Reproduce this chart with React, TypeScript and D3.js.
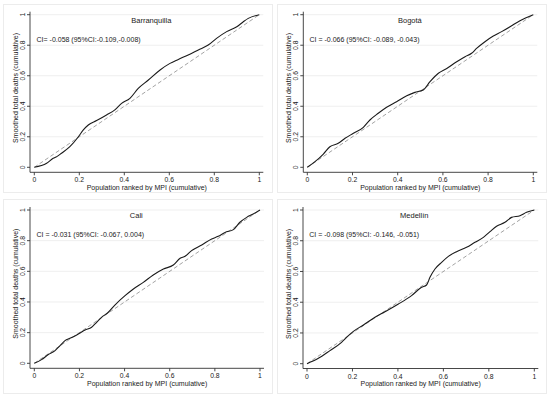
import React, { useEffect, useRef } from 'react';
import * as d3 from 'd3';

// Axis ticks (shared by all four panels)
const tickValues = [0, 0.2, 0.4, 0.6, 0.8, 1];
const tickLabels = ['0', '0.2', '0.4', '0.6', '0.8', '1'];

// Concentration curves
const barranquillaPop = [0, 0.055, 0.084, 0.1, 0.121, 0.158, 0.196, 0.218, 0.24, 0.277, 0.321, 0.358, 0.388, 0.425, 0.462, 0.507, 0.559, 0.603, 0.64, 0.684, 0.729, 0.773, 0.81, 0.855, 0.9, 0.929, 0.951, 1];
const barranquillaDeaths = [0, 0.026, 0.059, 0.07, 0.092, 0.135, 0.2, 0.245, 0.277, 0.306, 0.343, 0.376, 0.419, 0.452, 0.517, 0.572, 0.638, 0.681, 0.707, 0.736, 0.769, 0.801, 0.845, 0.889, 0.921, 0.954, 0.976, 1];

const bogotaPop = [0, 0.034, 0.071, 0.1, 0.137, 0.167, 0.204, 0.248, 0.277, 0.314, 0.351, 0.395, 0.44, 0.476, 0.513, 0.543, 0.58, 0.617, 0.661, 0.698, 0.727, 0.749, 0.786, 0.823, 0.86, 0.897, 0.941, 1];
const bogotaDeaths = [0, 0.037, 0.087, 0.135, 0.157, 0.19, 0.223, 0.262, 0.31, 0.354, 0.393, 0.43, 0.469, 0.491, 0.507, 0.561, 0.616, 0.648, 0.692, 0.725, 0.747, 0.779, 0.823, 0.86, 0.889, 0.921, 0.961, 1];

const caliPop = [0, 0.032, 0.062, 0.092, 0.114, 0.136, 0.158, 0.188, 0.225, 0.254, 0.276, 0.298, 0.328, 0.357, 0.402, 0.439, 0.483, 0.527, 0.572, 0.616, 0.646, 0.668, 0.697, 0.742, 0.786, 0.815, 0.845, 0.882, 0.911, 0.941, 0.97, 1];
const caliDeaths = [0, 0.024, 0.057, 0.083, 0.115, 0.148, 0.163, 0.185, 0.217, 0.235, 0.267, 0.3, 0.333, 0.38, 0.441, 0.485, 0.528, 0.576, 0.615, 0.641, 0.685, 0.698, 0.735, 0.772, 0.811, 0.828, 0.854, 0.872, 0.92, 0.952, 0.974, 1];

const medellinPop = [0, 0.05, 0.101, 0.152, 0.174, 0.204, 0.248, 0.299, 0.343, 0.402, 0.46, 0.504, 0.526, 0.541, 0.563, 0.592, 0.622, 0.658, 0.702, 0.739, 0.776, 0.805, 0.834, 0.871, 0.9, 0.937, 0.966, 1];
const medellinDeaths = [0, 0.035, 0.085, 0.139, 0.171, 0.21, 0.252, 0.302, 0.338, 0.388, 0.443, 0.497, 0.512, 0.562, 0.616, 0.659, 0.698, 0.729, 0.757, 0.79, 0.822, 0.859, 0.894, 0.92, 0.952, 0.963, 0.985, 1];

const cityNames = ['Barranquilla', 'Bogotá', 'Cali', 'Medellín'];
const ciLabels = [
  'CI= -0.058 (95%CI:-0.109,-0.008)',
  'CI = -0.066 (95%CI: -0.089, -0.043)',
  'CI = -0.031 (95%CI: -0.067, 0.004)',
  'CI = -0.098 (95%CI: -0.146, -0.051)',
];

interface Panel {
  name: string;
  ci: string;
  pop: number[];
  deaths: number[];
  frame: [number, number, number, number];
  xr: [number, number];
  yr: [number, number];
  axisX: number;
  axisY: number;
  titleX: number;
}

const panels: Panel[] = [
  { name: cityNames[0], ci: ciLabels[0], pop: barranquillaPop, deaths: barranquillaDeaths,
    frame: [3, 4, 272, 192], xr: [34.3, 259.3], yr: [167.3, 14.7], axisX: 30, axisY: 172.3, titleX: 0.52 },
  { name: cityNames[1], ci: ciLabels[1], pop: bogotaPop, deaths: bogotaDeaths,
    frame: [277, 4, 546, 192], xr: [307.3, 533.3], yr: [167.3, 14.7], axisX: 303.3, axisY: 172.3, titleX: 0.454 },
  { name: cityNames[2], ci: ciLabels[2], pop: caliPop, deaths: caliDeaths,
    frame: [3, 199, 272, 393], xr: [34.3, 260], yr: [363.3, 210], axisX: 30, axisY: 368.3, titleX: 0.452 },
  { name: cityNames[3], ci: ciLabels[3], pop: medellinPop, deaths: medellinDeaths,
    frame: [277, 199, 546, 393], xr: [307, 534.3], yr: [363.7, 210], axisX: 303, axisY: 368.5, titleX: 0.472 },
];

const FONT = '"Liberation Sans", Arial, Helvetica, sans-serif';
const TEXT = '#1a1a1a';

const App: React.FC = () => {
  const svgRef = useRef<SVGSVGElement>(null);

  useEffect(() => {
    if (!svgRef.current) return;
    const svg = d3.select(svgRef.current);
    svg.selectAll('*').remove();

    svg.append('rect').attr('width', 550).attr('height', 399).attr('fill', '#ffffff');

    panels.forEach(p => {
      const g = svg.append('g');
      const x = d3.scaleLinear().domain([0, 1]).range(p.xr);
      const y = d3.scaleLinear().domain([0, 1]).range(p.yr);
      const [fx0, fy0, fx1, fy1] = p.frame;

      // Panel frame
      g.append('rect')
        .attr('x', fx0 + 0.5)
        .attr('y', fy0 + 0.5)
        .attr('width', fx1 - fx0)
        .attr('height', fy1 - fy0)
        .attr('fill', 'none')
        .attr('stroke', '#ececec')
        .attr('stroke-width', 1);

      const plotRight = x(1) + 4;
      const plotTop = y(1) - 3;

      // Grid lines
      g.selectAll('.grid')
        .data(tickValues.slice(1))
        .join('line')
        .attr('x1', p.axisX)
        .attr('x2', plotRight)
        .attr('y1', d => y(d))
        .attr('y2', d => y(d))
        .attr('stroke', '#efefef')
        .attr('stroke-width', 1);

      // Axes lines
      g.append('line')
        .attr('x1', p.axisX).attr('x2', p.axisX)
        .attr('y1', plotTop).attr('y2', p.axisY)
        .attr('stroke', '#333').attr('stroke-width', 0.9);
      g.append('line')
        .attr('x1', p.axisX).attr('x2', plotRight)
        .attr('y1', p.axisY).attr('y2', p.axisY)
        .attr('stroke', '#333').attr('stroke-width', 0.9);

      // Y ticks + labels
      tickValues.forEach((v, i) => {
        g.append('line')
          .attr('x1', p.axisX - 3).attr('x2', p.axisX)
          .attr('y1', y(v)).attr('y2', y(v))
          .attr('stroke', '#333').attr('stroke-width', 0.9);
        g.append('text')
          .attr('transform', `translate(${p.axisX - 5},${y(v)}) rotate(-90)`)
          .attr('text-anchor', 'middle')
          .style('font-family', FONT)
          .style('font-size', '6.8px')
          .style('fill', TEXT)
          .text(tickLabels[i]);
      });

      // X ticks + labels
      tickValues.forEach((v, i) => {
        g.append('line')
          .attr('x1', x(v)).attr('x2', x(v))
          .attr('y1', p.axisY).attr('y2', p.axisY + 3)
          .attr('stroke', '#333').attr('stroke-width', 0.9);
        g.append('text')
          .attr('x', x(v))
          .attr('y', p.axisY + 10)
          .attr('text-anchor', 'middle')
          .style('font-family', FONT)
          .style('font-size', '6.8px')
          .style('fill', TEXT)
          .text(tickLabels[i]);
      });

      // Axis titles
      g.append('text')
        .attr('x', (p.xr[0] + p.xr[1]) / 2)
        .attr('y', p.axisY + 17.5)
        .attr('text-anchor', 'middle')
        .style('font-family', FONT)
        .style('font-size', '7px')
        .style('fill', TEXT)
        .text('Population ranked by MPI (cumulative)');
      g.append('text')
        .attr('transform', `translate(${p.axisX - 12.5},${(p.yr[0] + p.yr[1]) / 2 - 3}) rotate(-90)`)
        .attr('text-anchor', 'middle')
        .style('font-family', FONT)
        .style('font-size', '7px')
        .style('fill', TEXT)
        .text('Smoothed total deaths (cumulative)');

      // Equality line
      g.append('line')
        .attr('x1', x(0)).attr('y1', y(0))
        .attr('x2', x(1)).attr('y2', y(1))
        .attr('stroke', '#8c8c8c')
        .attr('stroke-width', 0.8)
        .attr('stroke-dasharray', '4,2.5');

      // Concentration curve
      const pts = p.pop.map((v, i) => [v, p.deaths[i]] as [number, number]);
      const line = d3.line<[number, number]>()
        .x(d => x(d[0]))
        .y(d => y(d[1]))
        .curve(d3.curveMonotoneX);
      g.append('path')
        .datum(pts)
        .attr('fill', 'none')
        .attr('stroke', '#1a1a1a')
        .attr('stroke-width', 1.1)
        .attr('d', line);

      // City title and CI label
      g.append('text')
        .attr('x', x(p.titleX))
        .attr('y', y(0.965) + 2.8)
        .attr('text-anchor', 'middle')
        .style('font-family', FONT)
        .style('font-size', '7.5px')
        .style('fill', TEXT)
        .text(p.name);
      g.append('text')
        .attr('x', x(0.01))
        .attr('y', y(0.84) + 2.5)
        .attr('text-anchor', 'start')
        .style('font-family', FONT)
        .style('font-size', '7px')
        .style('fill', TEXT)
        .text(p.ci);
    });
  }, []);

  return (
    <svg
      ref={svgRef}
      width={550}
      height={399}
      style={{ position: 'absolute', left: 0, top: 0, display: 'block' }}
    />
  );
};

export default App;
